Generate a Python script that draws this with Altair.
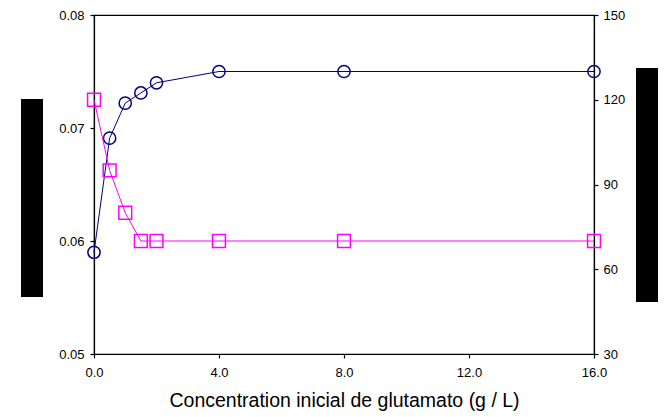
import altair as alt
import pandas as pd

glutamato = [0, 0.5, 1, 1.5, 2, 4, 8, 16]
serie_izq = [0.0590, 0.0691, 0.0722, 0.0731, 0.0740, 0.0750, 0.0750, 0.0750]
serie_der = [120, 95, 80, 70, 70, 70, 70, 70]
x_ticks = [0, 4, 8, 12, 16]
left_ticks = [0.05, 0.06, 0.07, 0.08]
right_ticks = [30, 60, 90, 120, 150]

df = pd.DataFrame({"x": glutamato, "a": serie_izq, "b": serie_der})

FONT = "Liberation Sans"
W, H = 500, 339

xenc = alt.X("x:Q", scale=alt.Scale(domain=[0, 16], nice=False),
             axis=alt.Axis(values=x_ticks, format=".1f", title="Concentration inicial de glutamato (g / L)",
                           labelFontSize=13, titleFontSize=19.5, titleFontWeight="normal",
                           labelPadding=8, titlePadding=12, tickSize=4, grid=False, labelFlush=False,
                           domainColor="black", tickColor="black", labelColor="black",
                           titleColor="black", labelFont=FONT, titleFont=FONT))

blue_line = alt.Chart(df).mark_line(color="#000080", strokeWidth=1).encode(
    x=xenc,
    y=alt.Y("a:Q", scale=alt.Scale(domain=[0.05, 0.08], nice=False, zero=False),
            axis=alt.Axis(values=left_ticks, format=".2f", title=None, orient="left",
                          labelFontSize=13, labelPadding=6, tickSize=4, grid=False, labelFlush=False,
                          domainColor="black", tickColor="black", labelColor="black", labelFont=FONT)))
blue_pts = alt.Chart(df).mark_point(shape="circle", size=150, color="#000080", strokeWidth=1.5,
                                    filled=False, opacity=1).encode(x="x:Q", y="a:Q")

mag_line = alt.Chart(df).mark_line(color="#FF00FF", strokeWidth=1).encode(
    x="x:Q",
    y=alt.Y("b:Q", scale=alt.Scale(domain=[30, 150], nice=False, zero=False),
            axis=alt.Axis(values=right_ticks, format="d", title=None, orient="right",
                          labelFontSize=13, labelPadding=5, tickSize=4, grid=False, labelFlush=False,
                          domainColor="black", tickColor="black", labelColor="black", labelFont=FONT)))
mag_pts = alt.Chart(df).mark_point(shape="square", size=165, color="#FF00FF", strokeWidth=1.5,
                                   filled=False, opacity=1).encode(x="x:Q", y="b:Q")

left_box = alt.Chart(df.head(1)).mark_rect(color="black").encode(
    x=alt.value(-73), x2=alt.value(-51), y=alt.value(84), y2=alt.value(282))
right_box = alt.Chart(df.head(1)).mark_rect(color="black").encode(
    x=alt.value(542), x2=alt.value(564), y=alt.value(53), y2=alt.value(287))

left = alt.layer(blue_line, blue_pts)
right = alt.layer(mag_line, mag_pts)

chart = alt.layer(left, right, left_box, right_box).resolve_scale(y="independent").properties(
    width=W, height=H,
    autosize=alt.AutoSizeParams(type="none"),
    padding={"left": 86, "top": 7, "right": 64, "bottom": 60},
    background="white",
).configure_view(stroke="black", strokeWidth=1.2).configure_axis(domainWidth=1.2, tickWidth=1.2)

chart.save("out.html", embed_options={"renderer": "svg", "actions": False})
